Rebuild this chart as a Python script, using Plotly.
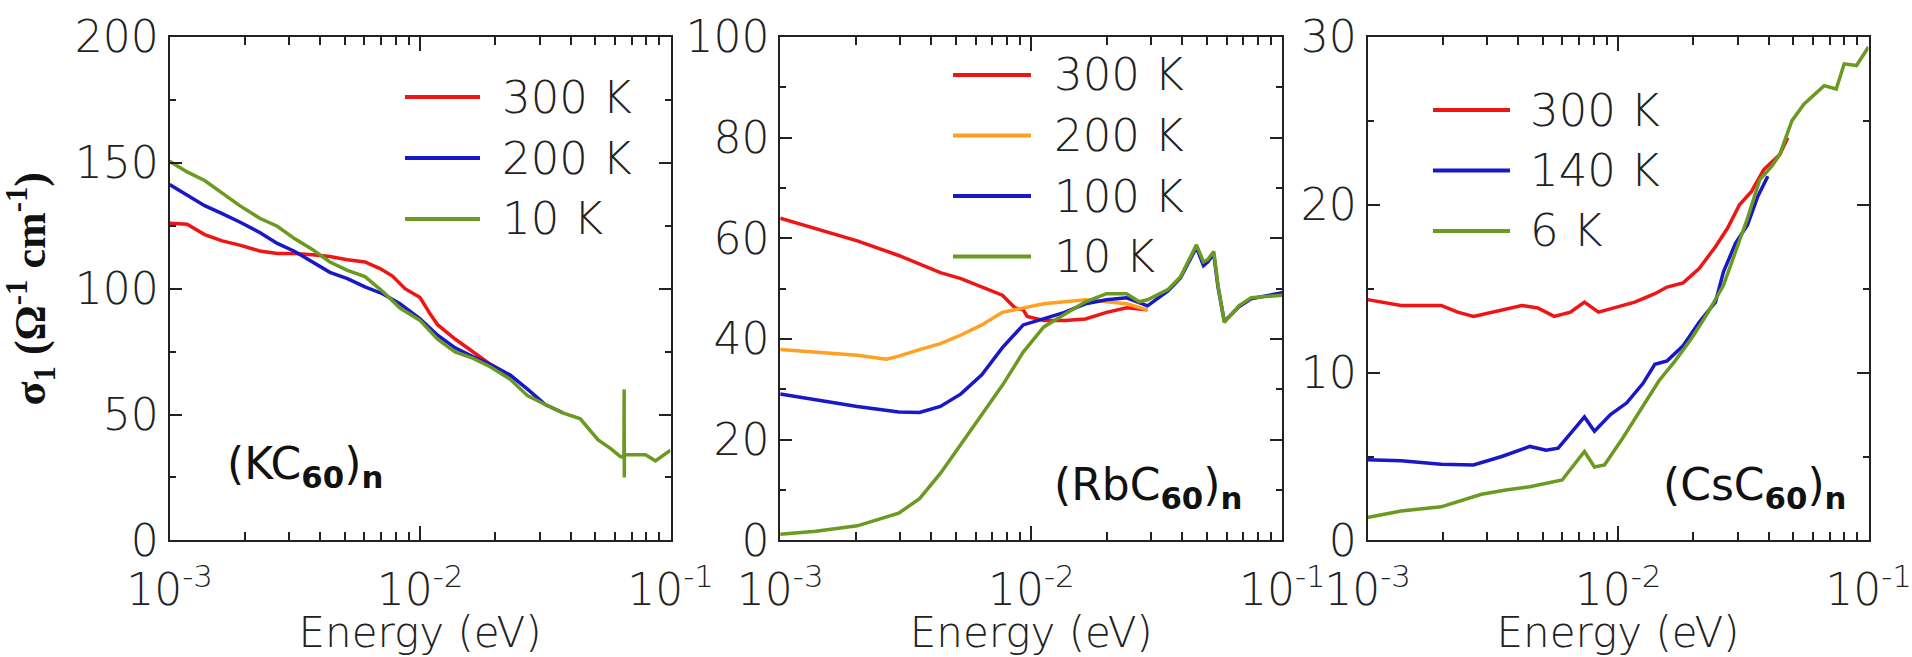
import numpy as np
import plotly.graph_objects as go

# ---------------- data (log10 energy in eV, sigma1 in Ohm^-1 cm^-1) ----------------
# Panel 1: (KC60)n
k_300_logE = [-3.0, -2.93, -2.86, -2.79, -2.72, -2.64, -2.57, -2.5, -2.43, -2.36, -2.29, -2.22,
              -2.16, -2.11, -2.06, -2.0, -1.96, -1.93, -1.86, -1.79, -1.72, -1.66, -1.63]
k_300_sig = [126.0, 125.6, 121.5, 119.0, 117.3, 115.0, 114.0, 114.0, 113.5, 112.8, 111.5, 110.6,
             108.0, 105.0, 100.0, 96.5, 90.0, 85.7, 80.0, 75.0, 70.0, 66.5, 64.0]
k_200_logE = [-3.0, -2.93, -2.86, -2.79, -2.72, -2.64, -2.57, -2.5, -2.43, -2.36, -2.29, -2.22,
              -2.15, -2.08, -2.0, -1.93, -1.86, -1.79, -1.72, -1.64, -1.57, -1.5, -1.43]
k_200_sig = [141.4, 137.3, 133.0, 129.8, 126.5, 122.3, 118.0, 114.8, 110.6, 106.5, 104.0, 100.7,
             98.0, 94.0, 88.0, 81.5, 76.5, 73.0, 70.0, 65.7, 60.0, 54.0, 50.7]
k_10_logE = [-3.0, -2.93, -2.86, -2.79, -2.72, -2.64, -2.57, -2.5, -2.43, -2.36, -2.29, -2.22,
             -2.15, -2.08, -2.0, -1.93, -1.86, -1.79, -1.72, -1.64, -1.57, -1.5, -1.43, -1.36,
             -1.29, -1.24, -1.2, -1.186, -1.185, -1.1845, -1.184, -1.17, -1.1, -1.06, -1.0]
k_10_sig = [150.6, 146.4, 143.0, 138.0, 133.0, 128.0, 124.8, 119.8, 115.6, 110.6, 107.3, 104.8,
            99.0, 92.3, 87.4, 79.9, 74.9, 72.4, 69.0, 64.0, 57.4, 54.0, 50.7, 48.3,
            40.0, 36.6, 33.3, 33.0, 60.0, 25.0, 34.0, 34.0, 34.0, 31.6, 35.8]

# Panel 2: (RbC60)n
rb_300_logE = [-3.0, -2.858, -2.693, -2.528, -2.445, -2.362, -2.28, -2.197, -2.115, -2.065, -2.032,
               -2.016, -1.95, -1.867, -1.784, -1.7, -1.62, -1.537]
rb_300_sig = [64.0, 62.0, 59.5, 56.6, 54.9, 53.2, 52.0, 50.3, 48.7, 46.2, 45.8,
              44.5, 43.7, 43.7, 44.0, 45.3, 46.2, 45.8]
rb_200_logE = [-3.0, -2.858, -2.693, -2.577, -2.528, -2.445, -2.362, -2.28, -2.197, -2.115, -2.032,
               -1.95, -1.867, -1.784, -1.7, -1.62, -1.537]
rb_200_sig = [37.9, 37.4, 36.8, 36.0, 36.6, 37.9, 39.1, 40.8, 42.8, 45.3, 46.2,
              47.0, 47.4, 47.8, 47.4, 47.0, 45.8]
rb_100_logE = [-3.0, -2.858, -2.693, -2.528, -2.445, -2.362, -2.28, -2.197, -2.115, -2.032, -1.95,
               -1.867, -1.784, -1.7, -1.62, -1.537, -1.454, -1.405, -1.342, -1.314, -1.297, -1.273,
               -1.256, -1.231, -1.173, -1.124, -1.0]
rb_100_sig = [29.1, 27.9, 26.6, 25.5, 25.4, 26.6, 29.1, 32.9, 38.3, 42.8, 44.1,
              45.3, 47.0, 47.8, 48.2, 46.6, 49.6, 52.2, 58.2, 54.6, 55.3, 56.9,
              50.3, 43.5, 46.4, 48.0, 49.2]
rb_10_logE = [-3.0, -2.858, -2.693, -2.61, -2.528, -2.445, -2.362, -2.28, -2.197, -2.115, -2.032,
              -1.95, -1.867, -1.784, -1.7, -1.62, -1.57, -1.537, -1.454, -1.405, -1.342, -1.314,
              -1.297, -1.273, -1.256, -1.231, -1.173, -1.124, -1.0]
rb_10_sig = [1.2, 1.8, 2.9, 4.2, 5.4, 8.3, 13.3, 19.1, 25.0, 30.8, 37.4,
             42.4, 44.9, 47.4, 49.0, 49.0, 47.4, 47.8, 49.9, 52.4, 58.7, 55.3,
             55.8, 57.4, 50.7, 43.3, 46.6, 48.2, 48.7]

# Panel 3: (CsC60)n
cs_300_logE = [-3.0, -2.866, -2.706, -2.64, -2.577, -2.464, -2.384, -2.32, -2.255, -2.19, -2.134,
               -2.078, -2.014, -1.933, -1.853, -1.804, -1.74, -1.676, -1.611, -1.563, -1.515,
               -1.467, -1.418, -1.354, -1.322]
cs_300_sig = [14.35, 14.0, 14.0, 13.6, 13.35, 13.7, 14.0, 13.85, 13.35, 13.6, 14.2,
              13.6, 13.85, 14.2, 14.7, 15.1, 15.35, 16.2, 17.5, 18.6, 20.0,
              20.8, 22.1, 23.0, 24.0]
cs_140_logE = [-3.0, -2.866, -2.706, -2.577, -2.464, -2.352, -2.287, -2.239, -2.19, -2.134, -2.094,
               -2.03, -1.965, -1.9, -1.853, -1.804, -1.74, -1.676, -1.611, -1.579, -1.531,
               -1.483, -1.442, -1.402]
cs_140_sig = [4.8, 4.74, 4.54, 4.5, 5.0, 5.6, 5.37, 5.5, 6.36, 7.36, 6.5,
              7.5, 8.2, 9.36, 10.5, 10.7, 11.6, 13.0, 14.2, 16.0, 17.7,
              18.8, 20.5, 21.7]
cs_6_logE = [-3.0, -2.866, -2.706, -2.625, -2.545, -2.448, -2.352, -2.223, -2.175, -2.134, -2.094,
             -2.054, -1.981, -1.9, -1.837, -1.772, -1.708, -1.644, -1.579, -1.531, -1.483,
             -1.434, -1.386, -1.354, -1.306, -1.258, -1.209, -1.177, -1.129, -1.097, -1.048, -1.0]
cs_6_sig = [1.37, 1.75, 2.0, 2.4, 2.75, 3.0, 3.2, 3.6, 4.5, 5.3, 4.37,
            4.5, 6.1, 8.0, 9.5, 10.7, 12.0, 13.5, 15.2, 17.2, 19.2,
            21.5, 22.3, 23.0, 25.0, 26.0, 26.7, 27.1, 26.9, 28.4, 28.3, 29.4]

panels = [
    dict(name="(KC<sub><b>60</b></sub>)<sub><b>n</b></sub>", ymax=200, dtick=50, minor=25,
         series=[("300 K", k_300_logE, k_300_sig, "#f01515"),
                 ("200 K", k_200_logE, k_200_sig, "#1818c8"),
                 ("10 K", k_10_logE, k_10_sig, "#6a9a20")]),
    dict(name="(RbC<sub><b>60</b></sub>)<sub><b>n</b></sub>", ymax=100, dtick=20, minor=10,
         series=[("300 K", rb_300_logE, rb_300_sig, "#f01515"),
                 ("200 K", rb_200_logE, rb_200_sig, "#ffa020"),
                 ("100 K", rb_100_logE, rb_100_sig, "#1818c8"),
                 ("10 K", rb_10_logE, rb_10_sig, "#6a9a20")]),
    dict(name="(CsC<sub><b>60</b></sub>)<sub><b>n</b></sub>", ymax=30, dtick=10, minor=5,
         series=[("300 K", cs_300_logE, cs_300_sig, "#f01515"),
                 ("140 K", cs_140_logE, cs_140_sig, "#1818c8"),
                 ("6 K", cs_6_logE, cs_6_sig, "#6a9a20")]),
]

x_tickvals = [1e-3, 1e-2, 1e-1]
x_ticktext = ["10<sup>-3</sup>", "10<sup>-2</sup>", "10<sup>-1</sup>"]
x_minorvals = [k * 10.0 ** e for e in (-3, -2) for k in range(2, 10)]

# ---------------- layout geometry (pixels of the 1912x657 page) ----------------
W, H = 1912, 657
x_domains_px = [(169.6, 670.5), (780.2, 1282.3), (1367.5, 1868.5)]
y_top_px, y_bot_px = 37.0, 540.4
legend_geo = [  # line start, line end, text start, first row y, row step
    (405, 480, 500, 97, 61),
    (953, 1031, 1052, 75, 60.5),
    (1433, 1510, 1528, 110, 60.5),
]
label_geo = [(225, 466), (1052, 487), (1661, 487)]

TXT = "#222222"
FONT = "DejaVu Sans"
WEIGHT = 300

fig = go.Figure()
for i, p in enumerate(panels):
    ax = "" if i == 0 else str(i + 1)
    for (name, lx, ly, col) in p["series"]:
        fig.add_trace(go.Scatter(x=np.power(10.0, lx), y=ly, mode="lines", name=name,
                                 line=dict(color=col, width=3.5), showlegend=False,
                                 xaxis="x" + ax, yaxis="y" + ax))
    x0, x1 = x_domains_px[i]
    fig.layout["xaxis" + ax] = dict(
        type="log", domain=[x0 / W, x1 / W], range=[-3, -1], anchor="y" + ax,
        automargin=False,
        tickvals=x_tickvals, ticktext=x_ticktext, ticks="inside", ticklen=14, tickwidth=1.5,
        tickcolor="#222", showline=True, linewidth=2, linecolor="#222", mirror="allticks",
        showgrid=False, zeroline=False, ticklabelstandoff=10,
        minor=dict(tickvals=x_minorvals, ticks="inside", ticklen=8, tickwidth=1.5,
                   tickcolor="#222", showgrid=False),
        tickfont=dict(family=FONT, size=44, color=TXT, weight=WEIGHT),
        title=dict(text="Energy (eV)", font=dict(family=FONT, size=42, color=TXT, weight=WEIGHT),
                   standoff=8),
    )
    fig.layout["yaxis" + ax] = dict(
        domain=[1 - y_bot_px / H, 1 - y_top_px / H], range=[0, p["ymax"]], anchor="x" + ax,
        automargin=False,
        dtick=p["dtick"], ticks="inside", ticklen=12, tickwidth=1.5, tickcolor="#222",
        showline=True, linewidth=2, linecolor="#222", mirror="allticks",
        showgrid=False, zeroline=False,
        minor=dict(dtick=p["minor"], ticks="inside", ticklen=6, tickwidth=1.5,
                   tickcolor="#222", showgrid=False),
        tickfont=dict(family=FONT, size=44, color=TXT, weight=WEIGHT),
    )
    # manual legend
    lx0, lx1, tx, ry, step = legend_geo[i]
    for j, (name, _, _, col) in enumerate(p["series"]):
        yy = 1 - (ry + j * step) / H
        fig.add_shape(type="line", xref="paper", yref="paper", x0=lx0 / W, x1=lx1 / W,
                      y0=yy, y1=yy, line=dict(color=col, width=4))
        fig.add_annotation(xref="paper", yref="paper", x=tx / W, y=yy, text=name,
                           showarrow=False, xanchor="left", yanchor="middle",
                           font=dict(family=FONT, size=45, color=TXT, weight=WEIGHT))
    # sample label
    bx, by = label_geo[i]
    fig.add_annotation(xref="paper", yref="paper", x=bx / W, y=1 - by / H, text=p["name"],
                       showarrow=False, xanchor="left", yanchor="middle",
                       font=dict(family=FONT, size=44, color="#111"))

fig.layout.yaxis.title = dict(
    text="<b>σ<sub>1</sub> (Ω<sup>-1</sup> cm<sup>-1</sup>)</b>",
    font=dict(family="Liberation Serif", size=44, color="#111"), standoff=18)

fig.update_layout(width=W, height=H, margin=dict(l=0, r=0, t=0, b=0),
                  plot_bgcolor="white", paper_bgcolor="white")
fig.write_html("out.html")
